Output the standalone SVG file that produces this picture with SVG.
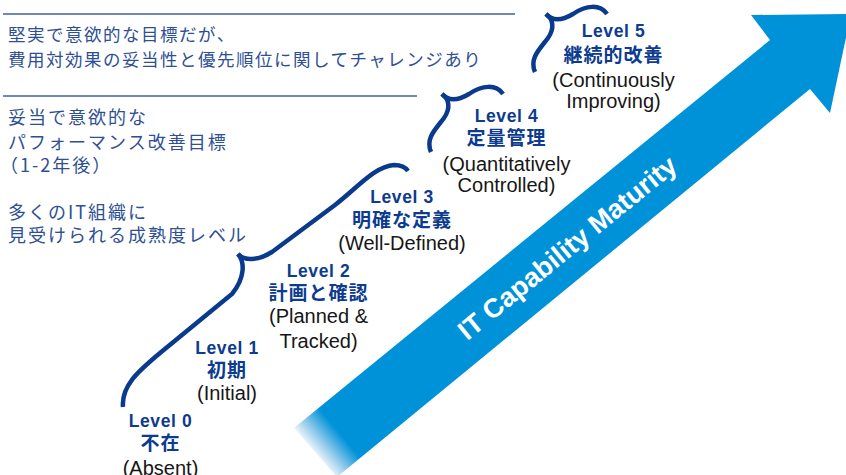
<svg xmlns="http://www.w3.org/2000/svg" width="846" height="475" viewBox="0 0 846 475">
<defs>
<linearGradient id="tailFade" gradientUnits="userSpaceOnUse" x1="315" y1="452" x2="339" y2="432">
<stop offset="0" stop-color="#e6f2fa"/>
<stop offset="0.3" stop-color="#a9d3ee"/>
<stop offset="1" stop-color="#0092d8"/>
</linearGradient>
<style>
.title{font-family:"Liberation Sans",Arial,sans-serif;font-weight:bold;font-size:17.5px;letter-spacing:0.6px;fill:#0c3b8f;text-anchor:middle}
.jp{font-family:"Noto Sans CJK JP",sans-serif;font-weight:bold;font-size:19px;letter-spacing:1px;fill:#0c3b8f;text-anchor:middle}
.en{font-family:"Liberation Sans",Arial,sans-serif;font-size:20px;fill:#161616;text-anchor:middle}
.note1{font-family:"Noto Sans CJK JP",sans-serif;font-size:17.5px;letter-spacing:1.5px;fill:#2e4f94}
.note2{font-family:"Noto Sans CJK JP",sans-serif;font-size:18px;letter-spacing:2px;fill:#2e4f94}
.rule{stroke:#3f5fa3;stroke-width:1.6;fill:none}
.brace{stroke:#0a3a8e;stroke-width:4.5;fill:none;stroke-linecap:butt}
.arrowtxt{font-family:"Liberation Sans",Arial,sans-serif;font-weight:bold;font-size:27px;fill:#ffffff;text-anchor:middle}
</style>
</defs>
<rect width="846" height="475" fill="#ffffff"/>

<g id="arrow">
<polygon points="294,428 770,40 751,15 851,14 830,113 810,89 337,477" fill="url(#tailFade)"/>
<text class="arrowtxt" transform="translate(573,255) rotate(-39.2)">IT Capability Maturity</text>
</g>

<g id="annotations">
<line class="rule" x1="3" y1="14" x2="515" y2="14"/>
<text class="note1" x="8" y="40.5">堅実で意欲的な目標だが、</text>
<text class="note1" x="8" y="65.5">費用対効果の妥当性と優先順位に関してチャレンジあり</text>
<line class="rule" x1="3" y1="96" x2="417" y2="96"/>
<text class="note2" x="8" y="123.5">妥当で意欲的な</text>
<text class="note2" x="8" y="148.5">パフォーマンス改善目標</text>
<text class="note2" x="0" y="171.5">（1-2年後）</text>
<text class="note2" x="8" y="218.5">多くのIT組織に</text>
<text class="note2" x="8" y="241.5">見受けられる成熟度レベル</text>
</g>

<g id="braces">
<path class="brace" d="M238,254 C245,262 245,278 232,294 L160,353 C140,370 121,385 123,407"/>
<path class="brace" d="M238,254 C244,261 258,261 272,252 L335,205 C356,189 375,166 394,165 C401,165 406,168 408,171"/>
<path class="brace" d="M442,94 C449,99 451,108 444,118 C436,129 425,138 431,152"/>
<path class="brace" d="M442,94 C449,102 459,100 469,94 C482,85 496,84 503,94"/>
<path class="brace" d="M546,14 C553,19 555,28 548,38 C540,49 529,58 535,72"/>
<path class="brace" d="M546,14 C553,22 563,20 573,14 C586,5 600,4 607,14"/>
</g>

<g id="level0">
<text class="title" x="160.5" y="426.7">Level 0</text>
<text class="jp" x="160.5" y="450">不在</text>
<text class="en" x="160.5" y="475">(Absent)</text>
</g>
<g id="level1">
<text class="title" x="227" y="354">Level 1</text>
<text class="jp" x="227" y="376.5">初期</text>
<text class="en" x="227" y="400">(Initial)</text>
</g>
<g id="level2">
<text class="title" x="318.5" y="276.7">Level 2</text>
<text class="jp" x="318.5" y="300">計画と確認</text>
<text class="en" x="318.5" y="323.3">(Planned &amp;</text>
<text class="en" x="318.5" y="348.3">Tracked)</text>
</g>
<g id="level3">
<text class="title" x="402" y="202.5">Level 3</text>
<text class="jp" x="402" y="226.5">明確な定義</text>
<text class="en" x="402" y="250">(Well-Defined)</text>
</g>
<g id="level4">
<text class="title" x="506.5" y="122.3">Level 4</text>
<text class="jp" x="506.5" y="145">定量管理</text>
<text class="en" x="506.5" y="170.7">(Quantitatively</text>
<text class="en" x="506.5" y="191.7">Controlled)</text>
</g>
<g id="level5">
<text class="title" x="613.5" y="37">Level 5</text>
<text class="jp" x="613.5" y="61.5">継続的改善</text>
<text class="en" x="613.5" y="87.3">(Continuously</text>
<text class="en" x="613.5" y="108.3">Improving)</text>
</g>
</svg>
